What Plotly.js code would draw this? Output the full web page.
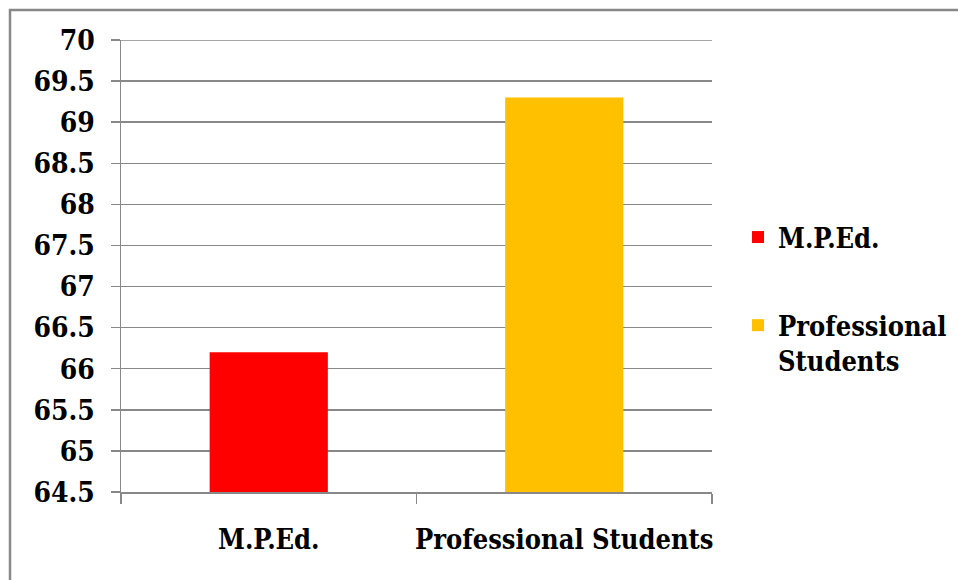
<!DOCTYPE html>
<html>
<head>
<meta charset="utf-8">
<script src="https://cdn.plot.ly/plotly-3.0.1.min.js"></script>
<style>
  html, body { margin: 0; padding: 0; background: #fff; }
  #chart { width: 958px; height: 580px; }
</style>
</head>
<body>
<div id="chart"></div>
<script>
const categories = ['M.P.Ed.', 'Professional Students'];
const legendNames = ['M.P.Ed.', 'Professional<br>Students'];
const values = [66.2, 69.3];
const colors = ['#FF0000', '#FFC000'];
const yTicks = [64.5, 65, 65.5, 66, 66.5, 67, 67.5, 68, 68.5, 69, 69.5, 70];

const font = 'DejaVu Serif Condensed, DejaVu Serif, serif';

const traces = categories.map((c, i) => ({
  type: 'bar',
  x: [c],
  y: [values[i]],
  name: legendNames[i],
  legendgroup: 'g' + i,
  marker: { color: colors[i] },
  width: 0.4,
  hoverinfo: 'x+y'
}));

const L = 121, R = 712, T = 40, B = 492, W = 958, H = 580;
const px2x = p => (p - L) / (R - L);
const py2y = p => (B - p) / (B - T);

const layout = {
  width: W, height: H,
  margin: { l: L, r: W - R, t: T, b: H - B, pad: 0, autoexpand: false },
  paper_bgcolor: '#ffffff',
  plot_bgcolor: '#ffffff',
  barmode: 'overlay',
  font: { family: font, size: 28, color: '#000' },
  showlegend: true,
  legend: {
    xref: 'container', yref: 'container',
    x: 738 / W, xanchor: 'left',
    y: 1 - 213 / H, yanchor: 'top',
    font: { family: font, size: 27, color: '#000', weight: 700 },
    valign: 'top',
    tracegroupgap: 50,
    itemwidth: 30,
    bgcolor: 'rgba(0,0,0,0)'
  },
  xaxis: {
    type: 'category',
    categoryorder: 'array',
    categoryarray: categories,
    automargin: false,
    tickangle: 0,
    showgrid: false,
    showline: true,
    linecolor: '#888888',
    linewidth: 1.5,
    ticks: 'outside',
    tickson: 'boundaries',
    ticklen: 10,
    tickcolor: '#888888',
    tickwidth: 1.5,
    ticklabelstandoff: 23,
    tickfont: { family: font, size: 27, color: '#000', weight: 700 },
    zeroline: false
  },
  yaxis: {
    range: [64.5, 70],
    automargin: false,
    tickmode: 'array',
    tickvals: yTicks,
    ticktext: yTicks.map(v => String(v)),
    showgrid: true,
    gridcolor: '#888888',
    gridwidth: 1.5,
    showline: true,
    linecolor: '#888888',
    linewidth: 1.5,
    ticks: 'outside',
    ticklen: 9,
    tickcolor: '#888888',
    tickwidth: 1.5,
    ticklabelstandoff: 10,
    tickfont: { family: font, size: 28, color: '#000', weight: 700 },
    zeroline: false
  },
  shapes: [{
    type: 'line', xref: 'paper', yref: 'y',
    x0: 0, x1: 1, y0: yTicks[yTicks.length - 1], y1: yTicks[yTicks.length - 1],
    line: { color: '#888888', width: 1.5 },
    layer: 'below'
  }, {
    type: 'rect', xref: 'paper', yref: 'paper',
    x0: px2x(10), x1: px2x(970),
    y0: py2y(600), y1: py2y(10),
    line: { color: '#888888', width: 2.5 },
    fillcolor: 'rgba(0,0,0,0)',
    layer: 'above'
  }]
};

Plotly.newPlot('chart', traces, layout, { displayModeBar: false, staticPlot: true });
</script>
</body>
</html>
